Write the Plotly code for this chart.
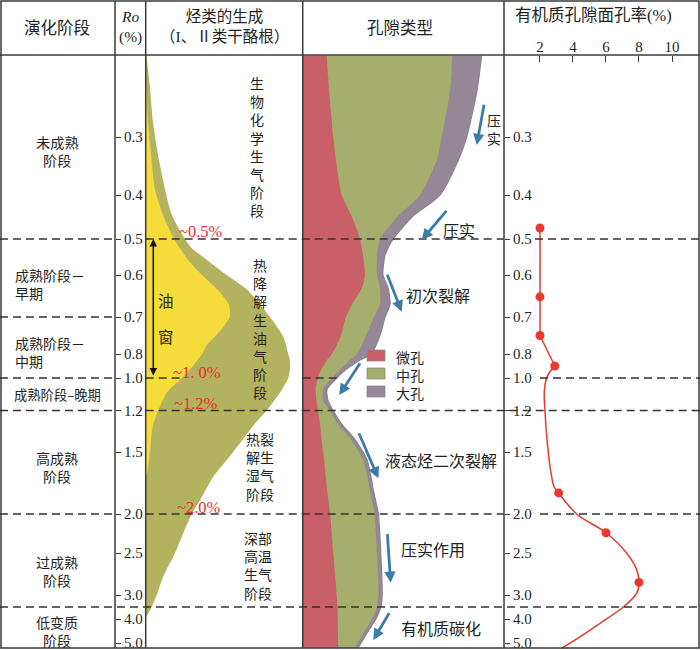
import numpy as np
import plotly.graph_objects as go

W, H = 700, 650

# ---------------- Ro axis (nonlinear) ----------------
RO_TICKS = [0.3, 0.4, 0.5, 0.6, 0.7, 0.8, 1.0, 1.2, 1.5, 2.0, 2.5, 3.0, 4.0, 5.0]
RO_TICK_TEXT = ["0.3", "0.4", "0.5", "0.6", "0.7", "0.8", "1.0", "1.2", "1.5", "2.0", "2.5", "3.0", "4.0", "5.0"]
# scale knots: Ro value -> vertical layout position (px from top)
RO_KNOTS = [0.15] + RO_TICKS + [5.5]
POS_KNOTS = [50, 137, 195, 239, 275, 317, 354, 378, 410.5, 452, 514, 553, 595, 619, 643, 655]


def ypos(ro):
    return np.interp(np.asarray(ro, dtype=float), RO_KNOTS, POS_KNOTS)


STAGE_BOUNDS = [0.5, 0.7, 1.0, 1.2, 2.0, 3.5]

# ---------------- hydrocarbon generation (relative width %) ----------------
GEN_RO = [0.16, 0.215, 0.274, 0.33, 0.39, 0.445, 0.5, 0.525, 0.558, 0.6, 0.634, 0.7, 0.753, 0.8, 0.85, 0.92,
          1.0, 1.09, 1.2, 1.31, 1.5, 1.7, 1.89, 2.0, 2.24, 2.5, 2.78, 3.0, 3.5, 3.96]
GEN_TOTAL = [0.5, 2.7, 4.6, 7.8, 12.3, 16.6, 25, 29.3, 39, 51.6, 64.3, 79.2, 87.6, 90.8, 91.9, 92.0,
             90.8, 85.5, 77, 68.5, 55.8, 43, 34.6, 29.3, 24, 18.7, 11.2, 7, 3.8, 0]
OIL_RO = [0.2, 0.274, 0.33, 0.39, 0.445, 0.5, 0.558, 0.6, 0.636, 0.671, 0.7, 0.735, 0.776, 0.8, 0.85, 0.9,
          1.0, 1.09, 1.2, 1.31, 1.5, 1.65, 1.7]
OIL_WIDTH = [0, 1.5, 3.4, 5.9, 11.0, 18.1, 27, 36, 46, 53, 53.5, 48, 39, 36, 33, 30,
             23, 13.4, 8, 4.5, 2.7, 1.3, 0]

# ---------------- pore types (cumulative relative width %) ----------------
PORE_RO = [0.16, 0.22, 0.3, 0.34, 0.4, 0.45, 0.5, 0.545, 0.6, 0.63, 0.67, 0.7, 0.75, 0.8, 0.85, 0.93,
           1.0, 1.07, 1.14, 1.2, 1.3, 1.4, 1.56, 1.83, 2.0, 2.5, 3.0, 3.5, 4.0, 4.6, 5.2]
MICRO = [11.9, 13.1, 15.2, 16.5, 19.4, 24.5, 28.5, 30.0, 31.0, 29.5, 24.5, 21.5, 19.0, 14.6, 12.1, 9.1,
         7.6, 6.4, 6.9, 7.6, 8.6, 9.3, 10.6, 12.3, 13.6, 15.2, 16.9, 17.3, 17.4, 17.5, 17.7]
MESO = [74.3, 73.2, 69.1, 66.6, 58.3, 46.9, 38.4, 36.9, 36.9, 38.4, 38.4, 35.4, 31.5, 27.0, 23.5, 18.5,
        14.6, 10.1, 10.1, 13.6, 17.5, 23.5, 30.0, 33.7, 35.7, 36.9, 37.7, 36.9, 34.4, 30.0, 25.7]
MACRO = [88.9, 86.6, 81.5, 77.3, 68.2, 54.3, 44.9, 40.9, 39.9, 42.4, 43.4, 40.9, 38.4, 33.9, 28.5, 21.5,
         17.0, 12.1, 12.6, 15.1, 19.5, 25.5, 31.9, 35.4, 37.6, 38.8, 39.5, 38.8, 36.4, 31.8, 27.6]

# ---------------- organic pore surface porosity (%) ----------------
POR_RO = [0.475, 0.652, 0.75, 0.9, 1.83, 2.24, 2.85]
POR_VAL = [2.0, 2.0, 2.0, 2.9, 3.13, 6.0, 8.0]
CURVE_RO = [0.9, 0.948, 1.0, 1.09, 1.2, 1.5, 1.7, 1.78, 1.83, 2.0, 2.24, 2.5, 2.7, 2.85, 2.98, 3.5, 4.18, 4.74, 5.22]
CURVE_VAL = [2.9, 2.6, 2.4, 2.26, 2.3, 2.5, 2.71, 2.85, 3.13, 4.22, 6.0, 7.25, 7.86, 8.0, 7.86, 7.05, 5.64, 4.42, 3.3]
POR_TICKS = [2, 4, 6, 8, 10]

# ---------------- colours / fonts ----------------
OLIVE = "#B3B35F"
YELLOW = "#F6DC3A"
RED = "#C95F67"
GREEN = "#A5AE6D"
PURPLE = "#958896"
BLUE = "#3C7CA8"
TXT_RED = "#E8302C"
LINE = "#3a3a3a"
TXT = "#231F20"
SERIF = "Liberation Serif, Noto Sans CJK SC"
CJK = "Noto Sans CJK SC"

# x-domains of columns (fraction of width)
C2 = (145.7 / W, 302.7 / W)
C3 = (302.7 / W, 504 / W)
C4 = (504 / W, 1.0)


def px(x):
    return x / W


def py(y):
    return 1 - y / H


fig = go.Figure()

# hydrocarbon generation (filled from the column's left edge)
for xs, ros, col in [(GEN_TOTAL, GEN_RO, OLIVE), (OIL_WIDTH, OIL_RO, YELLOW)]:
    fig.add_trace(go.Scatter(x=xs, y=ypos(ros), xaxis="x2", yaxis="y", mode="lines",
                             fill="tozerox", fillcolor=col,
                             line=dict(width=0, color=col, shape="spline", smoothing=0.6),
                             hoverinfo="skip", showlegend=False))

# pore types (drawn back to front, each filled from the column's left edge)
for edge, col, lw in [(MACRO, PURPLE, 1.2), (MESO, GREEN, 0), (MICRO, RED, 0)]:
    fig.add_trace(go.Scatter(x=edge, y=ypos(PORE_RO), xaxis="x3", yaxis="y", mode="lines",
                             fill="tozerox", fillcolor=col,
                             line=dict(width=lw, color="#8E8290" if lw else col, shape="spline", smoothing=0.6),
                             hoverinfo="skip", showlegend=False))

# porosity curve
fig.add_trace(go.Scatter(x=POR_VAL[:4], y=ypos(POR_RO[:4]), xaxis="x4", yaxis="y2", mode="lines",
                         line=dict(color="#E8392F", width=1.5), hoverinfo="skip", showlegend=False))
fig.add_trace(go.Scatter(x=CURVE_VAL, y=ypos(CURVE_RO), xaxis="x4", yaxis="y2", mode="lines",
                         line=dict(color="#E8392F", width=1.5, shape="spline", smoothing=0.9),
                         hoverinfo="skip", showlegend=False))
fig.add_trace(go.Scatter(x=POR_VAL, y=ypos(POR_RO), xaxis="x4", yaxis="y2", mode="markers",
                         marker=dict(color="#E8392F", size=9), hoverinfo="skip", showlegend=False))

shapes = []
# frame
shapes.append(dict(type="rect", xref="paper", yref="paper", x0=px(1), x1=px(699), y0=py(1), y1=py(648),
                   line=dict(color=LINE, width=1.5)))
shapes.append(dict(type="line", xref="paper", yref="paper", x0=0, x1=1, y0=py(55), y1=py(55),
                   line=dict(color=LINE, width=1.5)))
for xv in [115, 145.7, 302.7, 504]:
    shapes.append(dict(type="line", xref="paper", yref="paper", x0=px(xv), x1=px(xv), y0=py(1), y1=py(648),
                       line=dict(color=LINE, width=1.5)))

# stage boundaries (dashed)
DASH_SPANS = {
    0.5: [(0, 115), (145.7, 504), (535, 700)],
    0.7: [(0, 115)],
    1.0: [(0, 115), (145.7, 183), (302.7, 340), (540, 700)],
    1.2: [(0, 115), (145.7, 700)],
    2.0: [(0, 115), (145.7, 504), (540, 700)],
    3.5: [(0, 700)],
}
for ro in STAGE_BOUNDS:
    yv = float(ypos(ro))
    for a, b in DASH_SPANS[ro]:
        shapes.append(dict(type="line", xref="paper", yref="y", x0=px(a), x1=px(b), y0=yv, y1=yv,
                           layer="above", line=dict(color="#333333", width=1.4, dash="8px,5px")))

# legend boxes
LEG_NAMES = ["微孔", "中孔", "大孔"]
LEG_COLORS = [RED, GREEN, PURPLE]
LEG_Y = [355.5, 373.5, 391.5]
for col, yc in zip(LEG_COLORS, LEG_Y):
    shapes.append(dict(type="rect", xref="paper", yref="paper", x0=px(367), x1=px(385), y0=py(yc - 5.5),
                       y1=py(yc + 5.5), fillcolor=col, line=dict(color="#8a8a8a", width=0.8), layer="above"))

ann = []


def text(s, x, y, size=16, color=TXT, family=CJK, xanchor="center", align="center"):
    ann.append(dict(text=s, x=px(x), y=py(y), xref="paper", yref="paper", showarrow=False,
                    xanchor=xanchor, yanchor="middle", align=align,
                    font=dict(size=size, color=color, family=family)))


# header
text("演化阶段", 57, 27, 16.5)
text("<i>Ro</i><br>(%)", 130, 27, 15.5, family=SERIF)
text("烃类的生成<br>（I、Ⅱ类干酪根）", 224, 27, 15.5, family=SERIF)
text("孔隙类型", 400, 27, 16.5)
text("有机质孔隙面孔率(%)", 593, 15, 16.5, family=SERIF)

# column 1 stage names
text("未成熟<br>阶段", 57.5, 151, 14.2)
text("成熟阶段－<br>早期", 13, 284, 14, xanchor="left", align="left")
text("成熟阶段－<br>中期", 13, 352, 14, xanchor="left", align="left")
text("成熟阶段–晚期", 58, 395, 13.3)
text("高成熟<br>阶段", 57, 466.5, 14)
text("过成熟<br>阶段", 57, 570.5, 14)
text("低变质<br>阶段", 57, 630.5, 14)

# column 3 stage texts (vertical)
text("<br>".join("生物化学生气阶段"), 257, 146, 14)
text("<br>".join("热降解生油气阶段"), 260, 328.5, 14)
text("热裂<br>解生<br>湿气<br>阶段", 260, 466, 14)
text("深部<br>高温<br>生气<br>阶段", 258, 565, 14)

text("油", 166, 300, 15.5)
text("窗", 166, 336, 15.5)

text("~0.5%", 201, 232, 16.5, TXT_RED, SERIF)
text("~1. 0%", 197, 372, 16.5, TXT_RED, SERIF)
text("~1.2%", 196, 403, 16.5, TXT_RED, SERIF)
text("~2.0%", 199, 507, 16.5, TXT_RED, SERIF)

# pore column labels
text("压<br>实", 494, 128.5, 14)
text("压实", 459, 230.5)
text("初次裂解", 437.5, 295)
text("液态烃二次裂解", 441, 460)
text("压实作用", 433, 549)
text("有机质碳化", 441.5, 628)
text("<br>".join(LEG_NAMES), 394, 374.5, 14, xanchor="left", align="left")

# oil window arrow
ann.append(dict(text="", x=px(153.3), y=float(ypos(0.5)), xref="paper", yref="y", ax=0, ay=138,
                axref="pixel", ayref="pixel", showarrow=True, arrowhead=2, arrowside="end+start",
                arrowsize=1.0, arrowwidth=1.5, arrowcolor="#111111", startarrowhead=2, startarrowsize=1.0))

# blue process arrows (tail -> head, px)
ARROWS = [((484.3, 103.3), (476.7, 145)), ((447.7, 209.3), (421.7, 240)), ((386.7, 273.3), (401.7, 311.7)),
          ((361, 361.7), (339.3, 395)), ((358.3, 431.7), (378.3, 478.3)), ((387.3, 532.7), (390.7, 582.7)),
          ((390, 611.7), (373.3, 640))]
for (tx, ty), (hx, hy) in ARROWS:
    ann.append(dict(text="", x=px(hx), y=py(hy), xref="paper", yref="paper", ax=tx - hx, ay=ty - hy,
                    axref="pixel", ayref="pixel", showarrow=True, arrowhead=2, arrowsize=0.8,
                    arrowwidth=2.8, arrowcolor=BLUE))

tickfont = dict(family="Liberation Serif", size=15, color=TXT)
yax_common = dict(domain=[0, 1], range=[H, 0], tickvals=list(ypos(RO_TICKS)), ticktext=RO_TICK_TEXT,
                  ticks="outside", ticklen=5, tickcolor=LINE, tickwidth=1.2, showgrid=False, zeroline=False,
                  showline=False, tickfont=tickfont, anchor="free", side="right", fixedrange=True,
                  ticklabeloverflow="allow")

fig.update_layout(
    width=W, height=H, margin=dict(l=0, r=0, t=0, b=0),
    paper_bgcolor="white", plot_bgcolor="rgba(0,0,0,0)",
    showlegend=False,
    xaxis=dict(domain=[0, 1], range=[0, W], visible=False),
    xaxis2=dict(domain=list(C2), range=[0, 100], visible=False, anchor="y"),
    xaxis3=dict(domain=list(C3), range=[0, 100], visible=False, anchor="y"),
    xaxis4=dict(domain=list(C4), range=[-0.18, 11.697], side="top", anchor="free", position=py(55),
                tickvals=POR_TICKS, ticktext=[str(v) for v in POR_TICKS], ticks="inside", ticklen=6,
                tickcolor=LINE, tickwidth=1.2, showgrid=False, zeroline=False, showline=False,
                tickfont=tickfont, ticklabeloverflow="allow"),
    yaxis=dict(position=115 / W, **yax_common),
    yaxis2=dict(position=504 / W, overlaying="y", **yax_common),
    shapes=shapes,
    annotations=ann,
)

fig.write_html("out.html", config={"displayModeBar": False},
               post_script="document.body.style.margin='0px';document.body.style.padding='0px';")
